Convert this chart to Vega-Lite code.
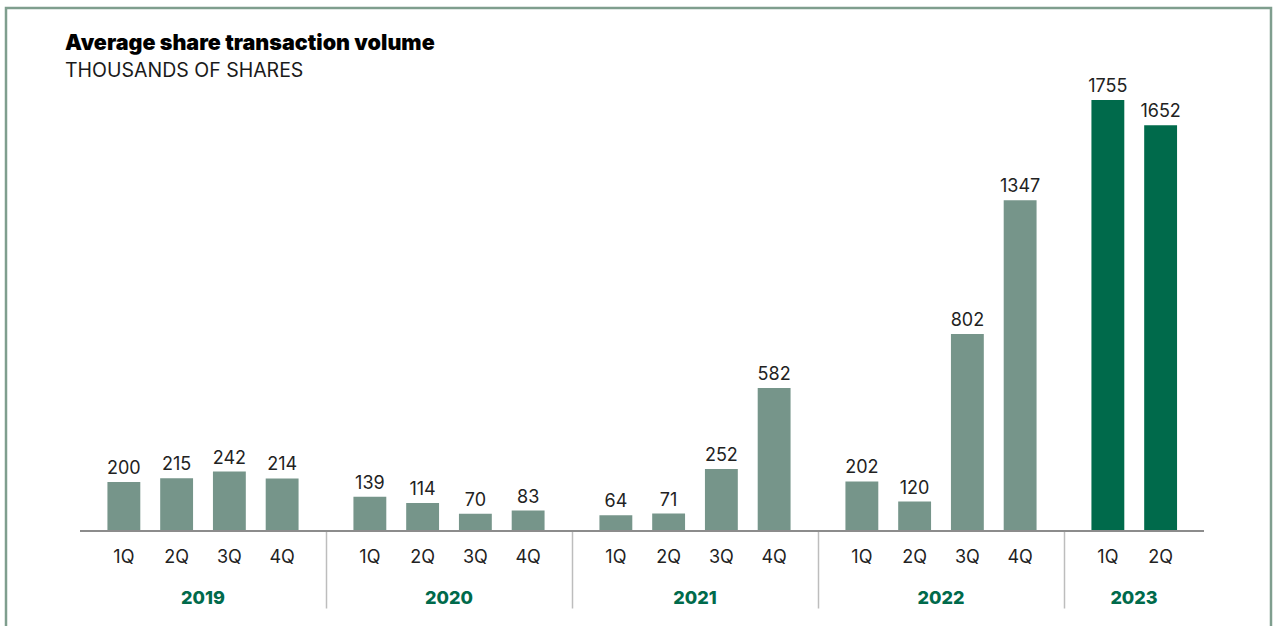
{
  "$schema": "https://vega.github.io/schema/vega-lite/v6.json",
  "autosize": {"type": "none"},
  "padding": {"left": 6, "top": 8, "right": 3, "bottom": 0},
  "width": 1265,
  "height": 640,
  "background": "white",
  "title": {
    "text": "Average share transaction volume",
    "subtitle": "THOUSANDS OF SHARES",
    "anchor": "start",
    "frame": "group",
    "offset": -72,
    "dx": 59,
    "font": "Inter",
    "fontSize": 21.5,
    "fontWeight": 900,
    "color": "#000000",
    "subtitleFont": "Inter",
    "subtitleFontSize": 19.5,
    "subtitleFontWeight": 400,
    "subtitleColor": "#1a1a1a",
    "subtitlePadding": 7
  },
  "config": {
    "view": {"stroke": "#7F9E8E", "strokeWidth": 2.5, "fill": "white"},
    "font": "Inter"
  },
  "data": {
    "values": [
      {"year": "2019", "quarter": "1Q", "value": 200},
      {"year": "2019", "quarter": "2Q", "value": 215},
      {"year": "2019", "quarter": "3Q", "value": 242},
      {"year": "2019", "quarter": "4Q", "value": 214},
      {"year": "2020", "quarter": "1Q", "value": 139},
      {"year": "2020", "quarter": "2Q", "value": 114},
      {"year": "2020", "quarter": "3Q", "value": 70},
      {"year": "2020", "quarter": "4Q", "value": 83},
      {"year": "2021", "quarter": "1Q", "value": 64},
      {"year": "2021", "quarter": "2Q", "value": 71},
      {"year": "2021", "quarter": "3Q", "value": 252},
      {"year": "2021", "quarter": "4Q", "value": 582},
      {"year": "2022", "quarter": "1Q", "value": 202},
      {"year": "2022", "quarter": "2Q", "value": 120},
      {"year": "2022", "quarter": "3Q", "value": 802},
      {"year": "2022", "quarter": "4Q", "value": 1347},
      {"year": "2023", "quarter": "1Q", "value": 1755},
      {"year": "2023", "quarter": "2Q", "value": 1652}
    ]
  },
  "encoding": {
    "x": {
      "field": "year",
      "type": "nominal",
      "sort": ["2019", "2020", "2021", "2022", "2023"],
      "scale": {"domain": ["2019", "2020", "2021", "2022", "2023"], "range": [74, 1304], "paddingInner": 0, "paddingOuter": 0},
      "axis": {
        "title": null,
        "orient": "bottom",
        "offset": -117,
        "domain": false,
        "bandPosition": 0,
        "ticks": true,
        "tickSize": 77,
        "tickWidth": 1.5,
        "tickColor": "#BDBDBD",
        "tickOpacity": {"condition": {"test": "datum.value === '2019'", "value": 0}, "value": 1},
        "labelOffset": {"condition": {"test": "datum.value === '2023'", "value": -53}, "value": 0},
        "labelAngle": 0,
        "labelBaseline": "alphabetic",
        "labelPadding": -5,
        "labelFont": "Inter",
        "labelFontSize": 18,
        "labelFontWeight": 800,
        "labelColor": "#006A4B",
        "grid": false
      }
    }
  },
  "layer": [
    {
      "mark": {"type": "bar"},
      "encoding": {
        "xOffset": {"field": "quarter", "type": "nominal", "scale": {"domain": ["1Q", "2Q", "3Q", "4Q"], "paddingInner": 0.377, "paddingOuter": 0.52}},
        "y": {"field": "value", "type": "quantitative", "scale": {"domain": [0, 1800], "range": [523, 81], "nice": false, "zero": true}, "axis": null},
        "color": {"condition": {"test": "datum.year === '2023'", "value": "#006A4B"}, "value": "#76958A"}
      }
    },
    {
      "mark": {"type": "text", "baseline": "alphabetic", "dy": -8, "fontSize": 18, "font": "Inter", "color": "#222222"},
      "encoding": {
        "xOffset": {"field": "quarter", "type": "nominal"},
        "y": {"field": "value", "type": "quantitative"},
        "text": {"field": "value", "type": "quantitative"}
      }
    },
    {
      "mark": {"type": "text", "baseline": "alphabetic", "dy": 32, "fontSize": 18, "font": "Inter", "color": "#222222"},
      "encoding": {
        "xOffset": {"field": "quarter", "type": "nominal"},
        "y": {"datum": 0, "type": "quantitative"},
        "text": {"field": "quarter", "type": "nominal"}
      }
    },
    {
      "mark": {"type": "rule", "color": "#8C8C8C", "strokeWidth": 1.5},
      "encoding": {
        "x": {"datum": "2019", "bandPosition": 0},
        "x2": {"datum": "2023", "bandPosition": 0.569},
        "y": {"datum": 0, "type": "quantitative"}
      }
    }
  ]
}
